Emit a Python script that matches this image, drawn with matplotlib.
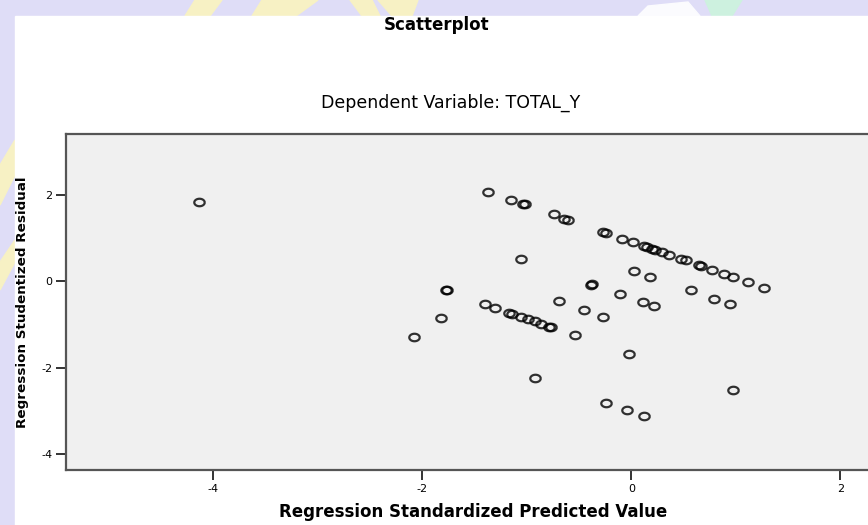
import numpy as np
import matplotlib.pyplot as plt
from matplotlib.patches import Rectangle, Polygon
from matplotlib.path import Path

plt.rcParams['axes.unicode_minus'] = False

# Residual scatter
pred_upper = [-1.37, -1.15, -1.04, -1.02, -0.74, -0.64, -0.61, -0.27, -0.24, -0.09,
              0.02, 0.12, 0.15, 0.20, 0.23, 0.29, 0.36, 0.48, 0.52, 0.65,
              0.67, 0.77, 0.89, 0.97, 1.12, 1.27]
resid_upper = [2.07, 1.88, 1.80, 1.78, 1.55, 1.45, 1.43, 1.13, 1.12, 0.99,
               0.90, 0.82, 0.80, 0.74, 0.72, 0.68, 0.61, 0.52, 0.49, 0.37,
               0.36, 0.27, 0.16, 0.09, -0.02, -0.15]

pred_mid = [-4.14, -1.06, -0.39, -0.38, -0.11, 0.11, 0.22, 0.03, 0.18, 0.57,
            0.79, 0.94, -0.69, -0.45, -0.27, -0.54, -0.02, -0.92, 0.97, -0.24,
            -0.04, 0.12]
resid_mid = [1.84, 0.51, -0.08, -0.07, -0.30, -0.49, -0.58, 0.23, 0.11, -0.21,
             -0.41, -0.53, -0.46, -0.67, -0.82, -1.25, -1.69, -2.24, -2.51, -2.81,
             -2.98, -3.11]

pred_lower = [-1.77, -1.76, -1.82, -2.08, -1.40, -1.30, -1.17, -1.14, -1.06, -0.99,
              -0.92, -0.86, -0.79, -0.77]
resid_lower = [-0.21, -0.21, -0.84, -1.29, -0.53, -0.61, -0.73, -0.76, -0.82, -0.88,
               -0.93, -0.98, -1.05, -1.07]

x = np.array(pred_upper + pred_mid + pred_lower)
y = np.array(resid_upper + resid_mid + resid_lower)

W, H = 868, 525
def fx(px):
    return px / W
def fy(py):
    return 1 - py / H

fig = plt.figure(figsize=(W / 100, H / 100), dpi=100)
fig.patch.set_facecolor('#dfddf7')

# faint bits of the watermark behind the chart
yellow = '#f7f1c4'
for pts in [
    [(195, 0), (222, 0), (210, 16), (185, 16)],
    [(262, 0), (318, 0), (296, 16), (252, 16)],
    [(350, 0), (372, 0), (380, 16), (362, 16)],
    [(378, 0), (418, 0), (412, 16), (392, 16)],
    [(0, 165), (15, 140), (15, 175), (0, 205)],
    [(0, 262), (15, 240), (15, 262), (0, 290)],
]:
    fig.add_artist(Polygon([(fx(a), fy(b)) for a, b in pts], closed=True,
                           transform=fig.transFigure, color=yellow, zorder=-2))
fig.add_artist(Polygon([(fx(a), fy(b)) for a, b in [(705, 0), (742, 0), (732, 16), (712, 16)]],
                       closed=True, transform=fig.transFigure, color='#cdf1df', zorder=-2))
fig.add_artist(Polygon([(fx(a), fy(b)) for a, b in [(648, 6), (688, 2), (700, 16), (638, 16)]],
                       closed=True, transform=fig.transFigure, color='#fbfbfe', zorder=-2))

# white output panel
fig.add_artist(Rectangle((fx(15), 0), 1, fy(16), transform=fig.transFigure,
                         color='white', zorder=-1))

ax = fig.add_axes([fx(66), fy(470), fx(880) - fx(66), (470 - 134) / H])
ax.set_facecolor('#f0f0f0')

# slightly flattened open circle, like the stretched SPSS marker
t = np.linspace(0, 2 * np.pi, 60)
ring = Path(np.column_stack([np.cos(t), 0.72 * np.sin(t)]))
ax.plot(x, y, linestyle='none', marker=ring, markersize=7.5,
        markerfacecolor='none', markeredgecolor='black', markeredgewidth=1.6,
        alpha=0.8)

ax.set_xlim(-5.41, 2.38)
ax.set_ylim(-4.37, 3.41)
ax.set_xticks([-4, -2, 0, 2])
ax.set_yticks([-4, -2, 0, 2])
ax.tick_params(direction='out', length=7, width=1.4, color='#333333',
               labelsize=8, pad=3)

for side in ['left', 'bottom', 'top']:
    ax.spines[side].set_linewidth(1.6)
    ax.spines[side].set_color('#555555')
ax.spines['right'].set_visible(False)

fig.text(fx(437), fy(25), 'Scatterplot', ha='center', va='center',
         fontsize=12, fontweight='bold')
fig.text(fx(451), fy(103), 'Dependent Variable: TOTAL_Y', ha='center', va='center',
         fontsize=12.5)
fig.text(fx(473), fy(512), 'Regression Standardized Predicted Value', ha='center',
         va='center', fontsize=12, fontweight='bold')
fig.text(fx(23), fy(302), 'Regression Studentized Residual', ha='center',
         va='center', rotation=90, fontsize=9.7, fontweight='bold')

fig.savefig('out.png', dpi=100, facecolor=fig.get_facecolor())
